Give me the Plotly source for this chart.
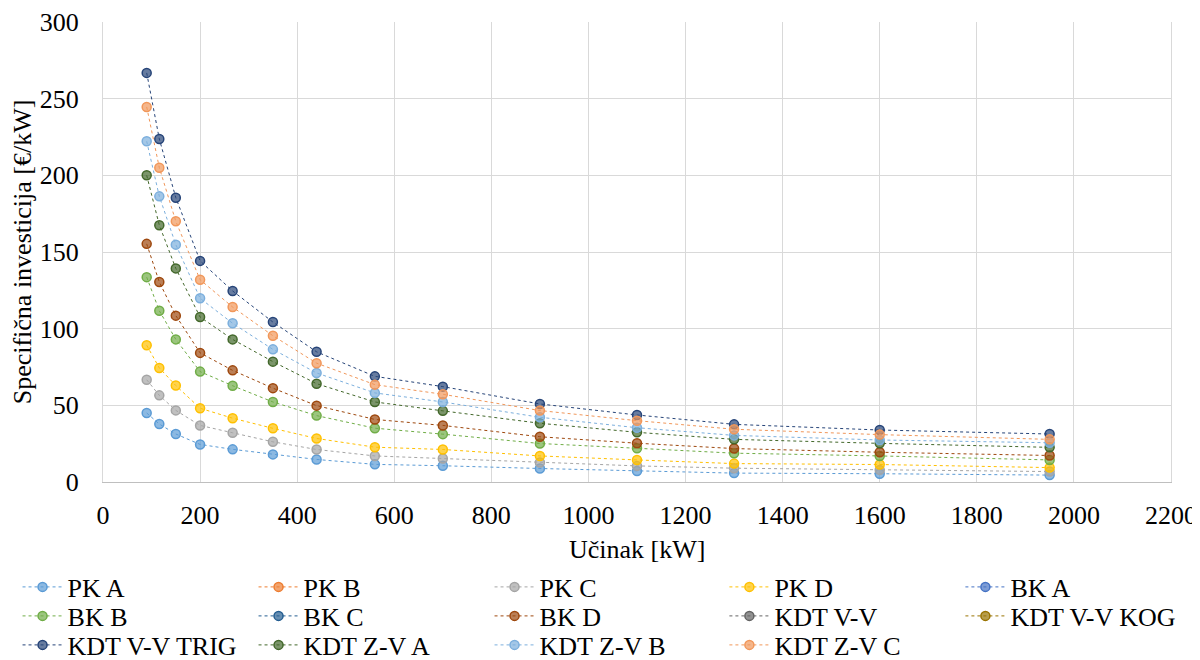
import plotly.graph_objects as go

x_kw = [90, 116, 150, 200, 267, 350, 440, 560, 700, 900, 1100, 1300, 1600, 1950]

names = ["PK A", "PK B", "PK C", "PK D", "BK A", "BK B", "BK C", "BK D",
         "KDT V-V", "KDT V-V KOG", "KDT V-V TRIG", "KDT Z-V A", "KDT Z-V B", "KDT Z-V C"]

# Series not visible in the chart (no readable points) are kept as gaps
pk_a = [45.0, 37.8, 31.3, 24.5, 21.3, 18.0, 14.7, 11.5, 10.6, 8.8, 7.1, 5.8, 5.4, 4.5]
pk_b = [None] * 14
pk_c = [66.7, 56.5, 46.7, 36.9, 32.1, 26.2, 21.2, 17.0, 15.3, 12.7, 10.5, 9.0, 7.9, 6.8]
pk_d = [89.2, 74.4, 62.9, 48.1, 41.6, 35.0, 28.4, 22.7, 21.2, 17.0, 14.4, 12.0, 11.4, 9.4]
bk_a = [None] * 14
bk_b = [133.6, 111.7, 93.0, 72.0, 62.8, 52.2, 43.3, 35.1, 31.2, 25.1, 22.0, 18.8, 17.0, 14.4]
bk_c = [None] * 14
bk_d = [155.3, 130.4, 108.5, 84.2, 72.8, 61.2, 49.8, 40.8, 36.9, 29.5, 25.3, 21.8, 19.4, 17.3]
kdt_vv = [None] * 14
kdt_vv_kog = [None] * 14
kdt_vv_trig = [266.8, 223.7, 185.4, 144.2, 124.6, 104.3, 84.9, 68.9, 62.2, 50.9, 43.7, 37.6, 33.9, 31.3]
kdt_zv_a = [200.0, 167.5, 139.3, 107.6, 93.0, 78.5, 64.1, 52.2, 46.4, 38.3, 32.4, 27.8, 25.2, 22.6]
kdt_zv_b = [222.2, 186.3, 154.8, 119.8, 103.5, 86.5, 71.1, 58.1, 52.2, 42.2, 35.4, 30.4, 27.4, 25.6]
kdt_zv_c = [244.6, 205.0, 170.0, 131.9, 114.1, 95.4, 77.5, 63.5, 57.2, 46.6, 40.0, 34.4, 30.9, 27.8]

series = [pk_a, pk_b, pk_c, pk_d, bk_a, bk_b, bk_c, bk_d,
          kdt_vv, kdt_vv_kog, kdt_vv_trig, kdt_zv_a, kdt_zv_b, kdt_zv_c]

colors = ["#5B9BD5", "#ED7D31", "#A5A5A5", "#FFC000", "#4472C4", "#70AD47",
          "#255E91", "#9E480E", "#636363", "#997300", "#264478", "#43682B",
          "#7CAFDD", "#F1975A"]

x_title = "Učinak [kW]"
y_title = "Specifična investicija [€/kW]"


def hex_rgba(h, a):
    h = h.lstrip("#")
    r, g, b = int(h[0:2], 16), int(h[2:4], 16), int(h[4:6], 16)
    return f"rgba({r},{g},{b},{a})"


def legend_id(i):
    row, col = divmod(i, 5)
    k = row * 2 + (0 if col < 3 else 1)
    return "legend" if k == 0 else f"legend{k + 1}"


fig = go.Figure()
for i, (name, vals, col) in enumerate(zip(names, series, colors)):
    fig.add_trace(go.Scatter(
        x=x_kw, y=vals, name=name, mode="lines+markers",
        line=dict(color=col, width=1, dash="dot"),
        marker=dict(size=9, color=hex_rgba(col, 0.7),
                    line=dict(color=col, width=1.5)),
        legend=legend_id(i),
    ))

FONT = "Liberation Serif"

legend_common = dict(
    orientation="h", xref="container", yref="container",
    xanchor="left", yanchor="middle",
    font=dict(family=FONT, size=26, color="black"),
    entrywidth=181, entrywidthmode="pixels",
    itemwidth=40, bgcolor="rgba(0,0,0,0)",
)

row_y = [1 - 579 / 652, 1 - 608 / 652, 1 - 637 / 652]
group_x = [0.008, 0.601]

legend_layout = {}
for row in range(3):
    for g in range(2):
        k = row * 2 + g
        key = "legend" if k == 0 else f"legend{k + 1}"
        legend_layout[key] = dict(legend_common, x=group_x[g], y=row_y[row])

fig.update_layout(
    width=1192, height=652,
    paper_bgcolor="white", plot_bgcolor="white",
    margin=dict(l=95, r=29, t=14, b=178, autoexpand=False),
    font=dict(family=FONT, size=26, color="black"),
    xaxis=dict(
        range=[0, 2200], dtick=200, tick0=0,
        showgrid=True, gridcolor="#D9D9D9", gridwidth=1,
        showline=True, linecolor="#BFBFBF", linewidth=1,
        zeroline=False, ticks="", ticklen=0, ticklabelstandoff=10,
        tickfont=dict(family=FONT, size=26, color="black"),
    ),
    yaxis=dict(
        range=[0, 300], dtick=50, tick0=0,
        showgrid=True, gridcolor="#D9D9D9", gridwidth=1,
        showline=True, mirror=True, linecolor="#D9D9D9",
        zeroline=False, ticks="", ticklabelstandoff=18,
        tickfont=dict(family=FONT, size=26, color="black"),
        title=dict(text=y_title, font=dict(family=FONT, size=26), standoff=6),
    ),
    annotations=[dict(
        text=x_title, xref="paper", yref="paper", x=0.5, y=0,
        xanchor="center", yanchor="middle", yshift=-67, showarrow=False,
        font=dict(family=FONT, size=26, color="black"),
    )],
    showlegend=True,
    **legend_layout,
)

fig.write_html("out.html")
